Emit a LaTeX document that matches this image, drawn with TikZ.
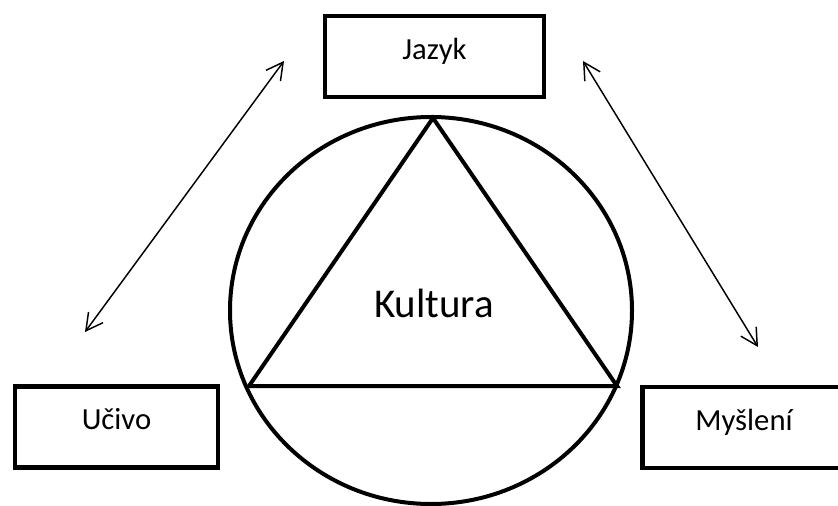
\documentclass[tikz,border=0pt]{standalone}
\usepackage{fontspec}
\setmainfont{Carlito}
\usetikzlibrary{arrows.meta,shapes.geometric}

\tikzset{
  box/.style={draw, line width=3.6pt, rectangle, inner sep=0pt,
    minimum height=60.75pt, font=\fontsize{23}{27}\selectfont,
    text height=10pt, text depth=6.2pt},
  ring/.style={draw, line width=3pt, ellipse, inner sep=0pt},
  tri/.style={line width=3pt, line join=miter},
  link/.style={line width=1.1pt,
    {Straight Barb[length=12.5pt,width=13.5pt,line width=1.1pt]}-{Straight Barb[length=12.5pt,width=13.5pt,line width=1.1pt]}}
}

\begin{document}
\begin{tikzpicture}[x=0.75pt,y=-0.75pt]
  \path[use as bounding box, clip] (0,0) rectangle (838,506);

  % outer ring around the triangle
  \node[ring, minimum width=301.5pt, minimum height=290.25pt] (ring) at (431,310.5) {};

  % triangle inscribed in the ring
  \coordinate (tA) at (433,118);
  \coordinate (tB) at (249,386);
  \coordinate (tC) at (617,386);
  \draw[tri] (tA) -- (tB) -- (tC) -- cycle;

  \node[font=\fontsize{30.7}{36}\selectfont, anchor=base] (kultura) at (434,317) {Kultura};

  % the three boxes
  \node[box, minimum width=164.25pt] (jazyk) at (434.5,56.5) {Jazyk};
  \node[box, minimum width=152.25pt] (ucivo) at (116.5,427) {Učivo};
  \node[box, minimum width=152.25pt] (mysleni) at (744,427.5) {Myšlení};

  % two-way arrows between the boxes
  \coordinate (l1) at (85,332);
  \coordinate (l2) at (284,61);
  \coordinate (r1) at (583,61);
  \coordinate (r2) at (758,347);
  \draw[link] (l1) -- (l2);
  \draw[link] (r1) -- (r2);
\end{tikzpicture}
\end{document}
